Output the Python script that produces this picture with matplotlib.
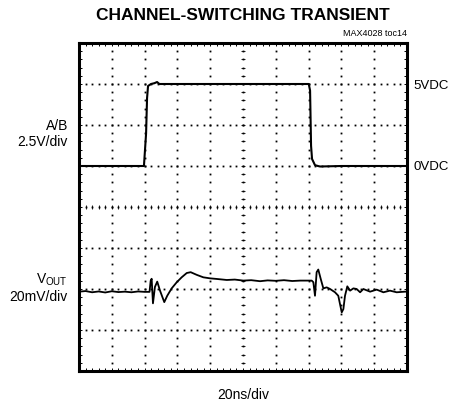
import matplotlib.pyplot as plt
import numpy as np

plt.rcParams['font.family'] = ['Liberation Sans', 'DejaVu Sans']

# A/B control signal (ns, V)
ab_t = [0, 39.6, 40.9, 41.5, 42.1, 43.9, 46.0, 47.6, 49.0, 60, 100, 140.1, 140.9, 141.5, 142.1,
        143.9, 145.7, 147.0, 160, 200]
ab_v = [0, 0, 1.98, 4.14, 4.88, 5.0, 5.05, 5.12, 5.0, 5.0, 5.0, 5.0, 4.6, 1.23, 0.43,
        0.05, 0.0, -0.03, 0.0, 0.0]

# VOUT (ns, mV)
vout_t = [0, 4, 8, 12, 16, 20, 24, 28, 32, 36, 40, 43.0, 43.7, 44.3, 45.1, 46.3, 47.7, 49.4,
          52.0, 53.8, 56.5, 59.6, 62.6, 65.7, 68.1, 71.8, 75.8, 79.9, 84.0, 90.1, 95, 100.2,
          105, 110.4, 115, 120, 125, 130, 135, 141.9, 142.9, 143.9, 144.9, 145.9, 147.4, 149.0,
          151.0, 153.1, 156.1, 158.1, 160.2, 161.2, 162.2, 163.6, 165.3, 167.3, 169.3, 171.4,
          173.4, 177.5, 181.5, 185.6, 189.6, 193.7, 198.8, 200]
vout_mv = [-1.3, -1.0, -1.6, -1.2, -1.7, -1.1, -1.5, -1.3, -1.6, -1.2, -1.4, -1.4, 4.0, 5.0,
           -7.0, 1.0, 3.6, -0.8, -6.4, -3.3, 0.3, 3.3, 5.7, 7.8, 8.2, 6.9, 5.7, 5.2, 4.9, 4.4,
           4.6, 4.1, 4.3, 3.8, 4.2, 4.0, 4.3, 3.9, 4.1, 4.1, 3.3, -3.3, 8.2, 9.5, 4.9, 0.3, 0.8,
           0.0, -1.6, -3.3, -11.4, -9.8, -3.3, 1.3, -0.8, 0.3, 0.0, -1.6, 0.0, -1.3, -0.3, -1.6,
           -0.8, -1.6, -1.3, -1.3]

ns_per_div = 20
ab_scale, ab_pos = 2.5, 5   # V/div, screen division of 0V
vout_scale, vout_pos = 20, 2  # mV/div

fig = plt.figure(figsize=(4.51, 4.10), dpi=100)
ax = fig.add_axes([79/451, 1 - 372/410, 328/451, 328/410])
ax.set_xlim(0, 10)
ax.set_ylim(0, 8)

# graticule dots
minor = np.arange(0, 10.01, 0.2)
minor_y = np.arange(0, 8.01, 0.2)
for k in range(1, 10):
    ax.plot(np.full(len(minor_y), k), minor_y, ls='none', marker='s', ms=1.3, mew=0,
            color='black')
for j in range(1, 8):
    ax.plot(minor, np.full(len(minor), j), ls='none', marker='s', ms=1.3, mew=0,
            color='black')
# centre lines with ticks
ax.plot(minor, np.full(len(minor), 4), ls='none', marker='|', ms=3, mew=0.6, color='black')
ax.plot(np.full(len(minor_y), 5), minor_y, ls='none', marker='_', ms=3, mew=0.6, color='black')

# traces
ax.plot(np.array(ab_t) / ns_per_div, ab_pos + np.array(ab_v) / ab_scale, color='black', lw=1.5)
ax.plot(np.array(vout_t) / ns_per_div, vout_pos + np.array(vout_mv) / vout_scale,
        color='black', lw=1.3)

ax.set_xticks([])
ax.set_yticks([])
ax.set_xticks(minor, minor=True)
ax.set_yticks(minor_y, minor=True)
ax.tick_params(which='minor', direction='in', length=2.5, width=0.7,
               top=True, bottom=True, left=True, right=True,
               labelbottom=False, labelleft=False)
for s in ax.spines.values():
    s.set_linewidth(2.2)

fig.text(243/451, 1 - 16/410, 'CHANNEL-SWITCHING TRANSIENT', ha='center', va='center',
         fontsize=12.5, fontweight='bold')
fig.text(407/451, 1 - 33/410, 'MAX4028 toc14', ha='right', va='center', fontsize=6.5)
fig.text(413/451, 1 - 86/410, '5VDC', ha='left', va='center', fontsize=9.5)
fig.text(413/451, 1 - 167/410, '0VDC', ha='left', va='center', fontsize=9.5)
fig.text(68/451, 1 - 126/410, 'A/B', ha='right', va='center', fontsize=10)
fig.text(68/451, 1 - 142/410, '2.5V/div', ha='right', va='center', fontsize=10)
fig.text(68/451, 1 - 280/410, r'V$_{\mathregular{OUT}}$', ha='right', va='center', fontsize=10)
fig.text(68/451, 1 - 297/410, '20mV/div', ha='right', va='center', fontsize=10)
fig.text(243/451, 1 - 395/410, '20ns/div', ha='center', va='center', fontsize=10)

fig.savefig('out.png', dpi=100)
